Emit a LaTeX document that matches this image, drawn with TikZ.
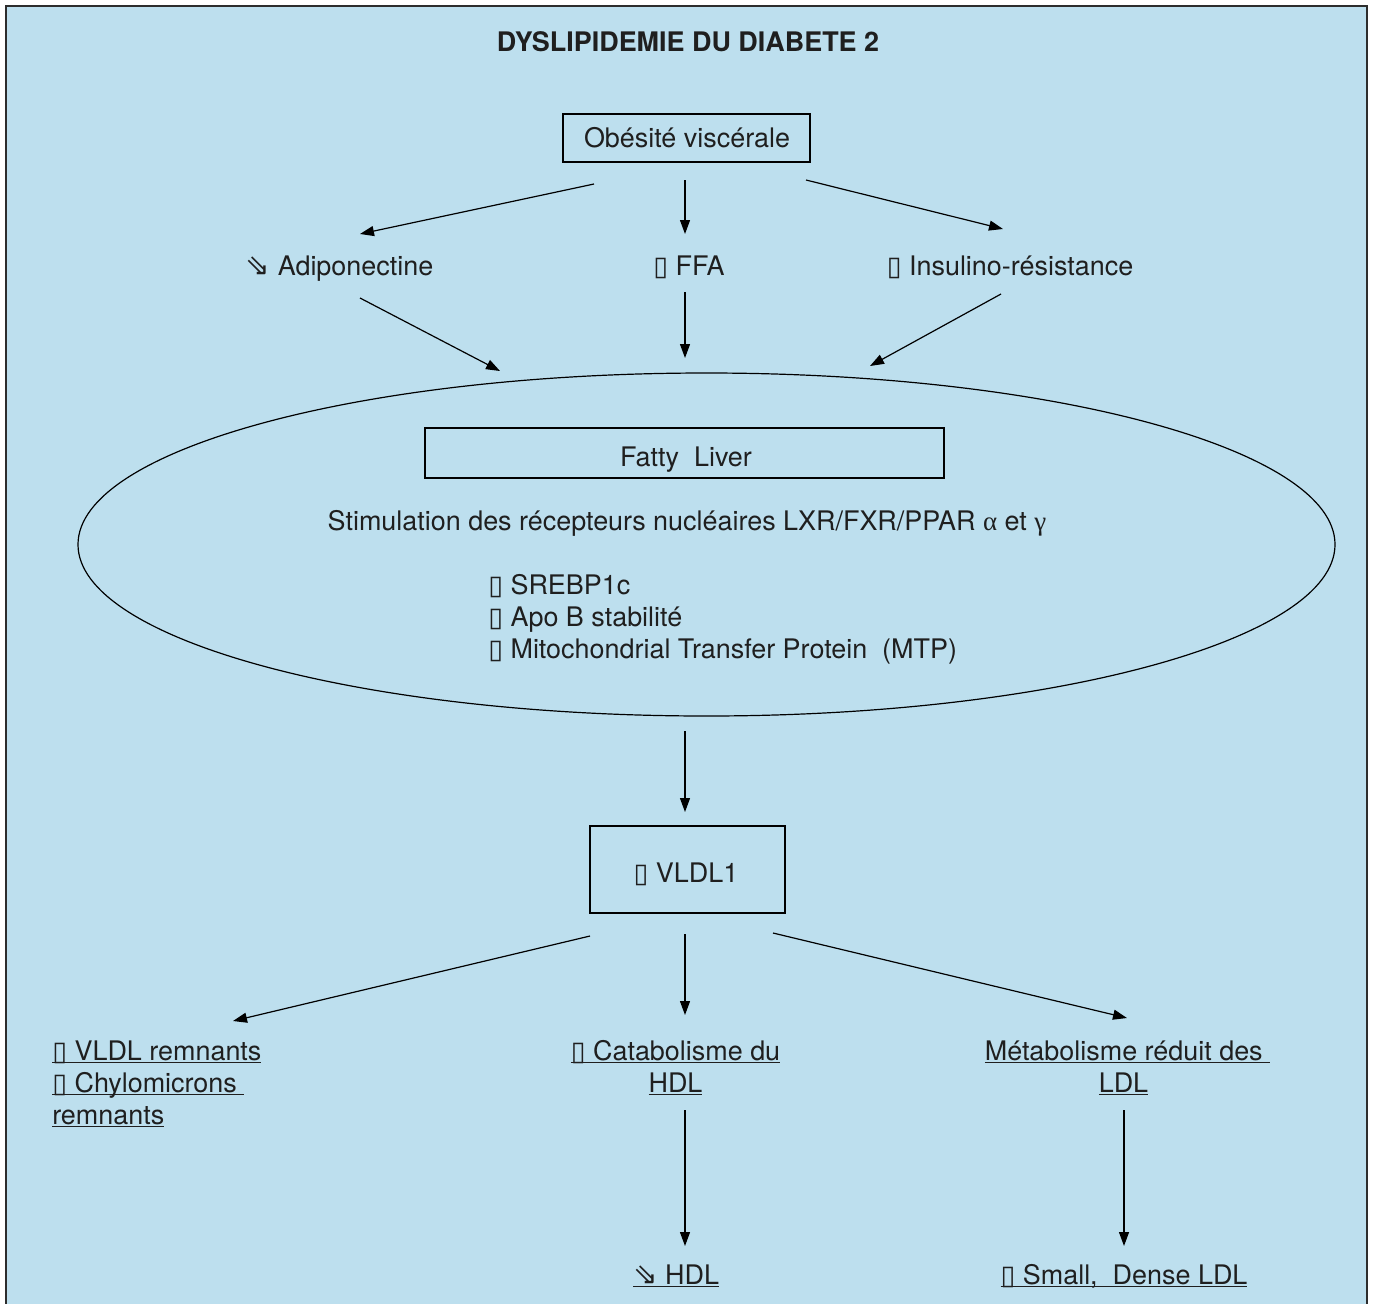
\documentclass[tikz,border=0pt]{standalone}
\usepackage{fontspec}
\setmainfont{TeX Gyre Heros}
\newfontfamily\symf{DejaVu Sans}
\newfontfamily\grkf{Liberation Serif}
\usetikzlibrary{arrows.meta,shapes.geometric}
\definecolor{bgblue}{RGB}{189,223,238}
\definecolor{framegray}{RGB}{45,45,45}
\newcommand{\bx}{{\symf ▯}}
\newcommand{\dnarr}{{\symf\fontsize{22}{24}\selectfont ⇘}}
\newcommand{\ul}[1]{\underline{\smash{#1}}}
\begin{document}
\begin{tikzpicture}[x=0.75pt,y=-0.75pt,
  font=\fontsize{20.2}{24}\selectfont,
  arr/.style={-{Triangle[length=10.5pt,width=7.5pt]}, line width=0.9pt, draw=black},
  boxnode/.style={draw=black, line width=0.9pt, inner sep=0pt},
  txt/.style={inner sep=0pt, anchor=base, text=black!88}]
\useasboundingbox (0,0) rectangle (1373,1303);
\fill[white] (0,0) rectangle (1373,1303);
\draw[fill=bgblue, draw=framegray, line width=1.5pt] (6,6) rectangle (1367,1320);

% title
\node[txt, font=\fontsize{20.2}{24}\selectfont\bfseries] (title) at (688,51) {DYSLIPIDEMIE DU DIABETE 2};

% top box
\node[boxnode, minimum width=185.25pt, minimum height=36pt] (obes) at (686.5,138) {};
\node[txt] (obest) at (687,147) {Obésité viscérale};

% row of three
\node[txt] (adipo) at (339.5,275) {\dnarr\ Adiponectine};
\node[txt] (ffa) at (689,275) {\bx\ FFA};
\node[txt] (insr) at (1010,275) {\bx\ Insulino-résistance};

% ellipse
\node[draw=black, line width=0.9pt, ellipse, inner sep=0pt, minimum width=942.75pt, minimum height=257.25pt] (liver) at (706.5,544.5) {};
\node[boxnode, minimum width=389.25pt, minimum height=37.5pt] (fatty) at (684.5,453) {};
\node[txt] (fattyt) at (686,466) {Fatty\ \ Liver};
\node[txt] (stim) at (687,530) {Stimulation des récepteurs nucléaires LXR/FXR/PPAR {\grkf α} et {\grkf γ}};
\node[txt, anchor=base west] (l1) at (488,594) {\bx\ SREBP1c};
\node[txt, anchor=base west] (l2) at (488,626) {\bx\ Apo B stabilité};
\node[txt, anchor=base west] (l3) at (488,658) {\bx\ Mitochondrial Transfer Protein\ \ (MTP)};

% VLDL1 box
\node[boxnode, minimum width=146.25pt, minimum height=65.25pt] (vldl) at (687.5,869.5) {};
\node[txt] (vldlt) at (686,882) {\bx\ VLDL1};

% bottom row
\node[txt, anchor=base west] (r1) at (52,1060) {\ul{\bx\ VLDL remnants}};
\node[txt, anchor=base west] (r2) at (52,1092) {\ul{\bx\ Chylomicrons\ }};
\node[txt, anchor=base west] (r3) at (52,1124) {\ul{remnants}};
\node[txt] (cat1) at (675.5,1060) {\ul{\bx\ Catabolisme du}};
\node[txt] (cat2) at (675.5,1092) {\ul{HDL}};
\node[txt] (met1) at (1127.5,1060) {\ul{Métabolisme réduit des\ }};
\node[txt] (met2) at (1123.5,1092) {\ul{LDL}};
\node[txt] (hdl) at (676,1284) {\ul{\dnarr\ HDL}};
\node[txt] (sdl) at (1124,1284) {\ul{\bx\ Small,\ \ Dense LDL}};

% connector end points
\coordinate (s1) at (594,184);  \coordinate (e1) at (360,234);
\coordinate (s2) at (685,180);  \coordinate (e2) at (685,234);
\coordinate (s3) at (806,180);  \coordinate (e3) at (1003,229);
\coordinate (s4) at (360,298);  \coordinate (e4) at (500,371);
\coordinate (s5) at (685,292);  \coordinate (e5) at (685,358);
\coordinate (s6) at (1001,294); \coordinate (e6) at (870,366);
\coordinate (s7) at (685,731);  \coordinate (e7) at (685,812);
\coordinate (s8) at (590,936);  \coordinate (e8) at (233,1021);
\coordinate (s9) at (685,934);  \coordinate (e9) at (685,1015);
\coordinate (s10) at (773,933); \coordinate (e10) at (1127,1018);
\coordinate (s11) at (685,1110); \coordinate (e11) at (685,1246);
\coordinate (s12) at (1124,1110); \coordinate (e12) at (1124,1246);

\foreach \i in {1,...,12} {\draw[arr] (s\i) -- (e\i);}
\end{tikzpicture}
\end{document}
